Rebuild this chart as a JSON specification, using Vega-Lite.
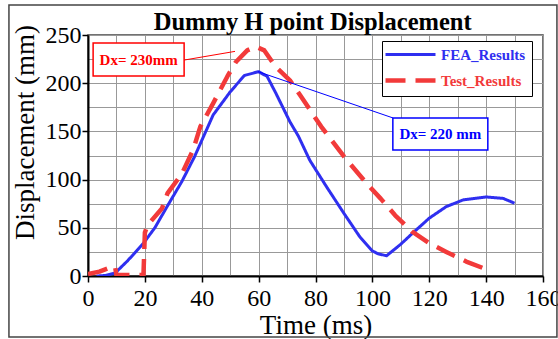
{
  "$schema": "https://vega.github.io/schema/vega-lite/v6.json",
  "width": 455,
  "height": 241,
  "autosize": {"type": "none"},
  "padding": {"left": 88, "top": 35, "right": 15, "bottom": 63},
  "background": "white",
  "config": {
    "view": {"stroke": "#444", "strokeWidth": 1.5},
    "axis": {"labelFont": "Liberation Serif", "titleFont": "Liberation Serif", "labelColor": "black", "titleColor": "black", "titleFontWeight": "normal", "labelFontSize": 24, "titleFontSize": 27, "domainColor": "black", "domainWidth": 2, "tickColor": "black", "tickWidth": 1.5, "tickSize": 6, "gridColor": "#999", "gridWidth": 1, "gridOpacity": 1}
  },
  "resolve": {"axis": {"x": "independent", "y": "independent"}},
  "datasets": {
    "curves": [
      {"t": 3, "d": 0, "s": "FEA_Results"},
      {"t": 6, "d": 0.5, "s": "FEA_Results"},
      {"t": 9.5, "d": 3, "s": "FEA_Results"},
      {"t": 14, "d": 16, "s": "FEA_Results"},
      {"t": 19.5, "d": 34, "s": "FEA_Results"},
      {"t": 23.5, "d": 50, "s": "FEA_Results"},
      {"t": 28, "d": 73, "s": "FEA_Results"},
      {"t": 33, "d": 98, "s": "FEA_Results"},
      {"t": 37.5, "d": 124, "s": "FEA_Results"},
      {"t": 44, "d": 167, "s": "FEA_Results"},
      {"t": 50, "d": 191, "s": "FEA_Results"},
      {"t": 55, "d": 208, "s": "FEA_Results"},
      {"t": 60, "d": 212, "s": "FEA_Results"},
      {"t": 63, "d": 207, "s": "FEA_Results"},
      {"t": 66, "d": 190, "s": "FEA_Results"},
      {"t": 71, "d": 160, "s": "FEA_Results"},
      {"t": 74, "d": 145, "s": "FEA_Results"},
      {"t": 78, "d": 120, "s": "FEA_Results"},
      {"t": 84, "d": 92, "s": "FEA_Results"},
      {"t": 90, "d": 65, "s": "FEA_Results"},
      {"t": 95.5, "d": 41, "s": "FEA_Results"},
      {"t": 100, "d": 26, "s": "FEA_Results"},
      {"t": 102, "d": 23, "s": "FEA_Results"},
      {"t": 105, "d": 21, "s": "FEA_Results"},
      {"t": 110, "d": 33, "s": "FEA_Results"},
      {"t": 114, "d": 44, "s": "FEA_Results"},
      {"t": 120, "d": 60, "s": "FEA_Results"},
      {"t": 126, "d": 72, "s": "FEA_Results"},
      {"t": 132, "d": 79, "s": "FEA_Results"},
      {"t": 140, "d": 82, "s": "FEA_Results"},
      {"t": 146, "d": 80.5, "s": "FEA_Results"},
      {"t": 150, "d": 75.5, "s": "FEA_Results"},
      {"t": 0, "d": 2, "s": "Test_Results"},
      {"t": 4, "d": 4.5, "s": "Test_Results"},
      {"t": 8, "d": 9, "s": "Test_Results"},
      {"t": 9.5, "d": 10, "s": "Test_Results"},
      {"t": 10, "d": 1, "s": "Test_Results"},
      {"t": 19.5, "d": 1, "s": "Test_Results"},
      {"t": 20, "d": 45, "s": "Test_Results"},
      {"t": 21, "d": 53, "s": "Test_Results"},
      {"t": 26, "d": 70, "s": "Test_Results"},
      {"t": 28, "d": 86, "s": "Test_Results"},
      {"t": 33, "d": 106, "s": "Test_Results"},
      {"t": 37, "d": 131, "s": "Test_Results"},
      {"t": 39.5, "d": 155, "s": "Test_Results"},
      {"t": 44, "d": 179, "s": "Test_Results"},
      {"t": 49, "d": 207, "s": "Test_Results"},
      {"t": 52, "d": 222, "s": "Test_Results"},
      {"t": 56, "d": 234, "s": "Test_Results"},
      {"t": 59, "d": 238, "s": "Test_Results"},
      {"t": 62, "d": 234, "s": "Test_Results"},
      {"t": 66, "d": 217, "s": "Test_Results"},
      {"t": 71, "d": 203, "s": "Test_Results"},
      {"t": 74.5, "d": 188, "s": "Test_Results"},
      {"t": 82, "d": 155, "s": "Test_Results"},
      {"t": 90, "d": 124, "s": "Test_Results"},
      {"t": 98, "d": 96, "s": "Test_Results"},
      {"t": 103, "d": 80, "s": "Test_Results"},
      {"t": 108, "d": 63, "s": "Test_Results"},
      {"t": 114, "d": 46, "s": "Test_Results"},
      {"t": 120, "d": 34, "s": "Test_Results"},
      {"t": 126, "d": 25, "s": "Test_Results"},
      {"t": 133, "d": 15, "s": "Test_Results"},
      {"t": 140, "d": 7, "s": "Test_Results"}
    ],
    "notes": [
      {"label": "Dx= 230mm", "c": "red", "bx": 1.8, "bx2": 33.8, "by": 241.7, "by2": 207.5, "tx": 17.8, "ty": 224.5, "lx": 33.8, "ly": 224, "lx2": 51.7, "ly2": 233},
      {"label": "Dx= 220 mm", "c": "blue", "bx": 107.2, "bx2": 140.6, "by": 163.9, "by2": 130.7, "tx": 123.9, "ty": 147.3, "lx": 59.8, "ly": 212, "lx2": 107.2, "ly2": 164}
    ]
  },
  "layer": [
    {
      "data": {"values": [{}]},
      "mark": {"type": "rect", "fill": "transparent", "stroke": "#444", "strokeWidth": 1.5, "clip": false},
      "encoding": {
        "x": {"datum": -27.8, "type": "quantitative", "axis": null},
        "x2": {"datum": 164.9},
        "y": {"datum": 281.1, "type": "quantitative", "axis": null},
        "y2": {"datum": -63.3}
      }
    },
    {
      "data": {"name": "curves"},
      "mark": {"type": "line", "strokeJoin": "round", "strokeCap": "butt", "clip": true},
      "encoding": {
        "x": {
          "field": "t", "type": "quantitative",
          "scale": {"domain": [0, 160], "nice": false, "zero": false},
          "axis": {"orient": "bottom", "title": null, "grid": true, "values": [0, 10, 20, 30, 40, 50, 60, 70, 80, 90, 100, 110, 120, 130, 140, 150, 160], "labels": false, "ticks": false, "domain": false}
        },
        "y": {
          "field": "d", "type": "quantitative",
          "scale": {"domain": [0, 250], "nice": false},
          "axis": {"orient": "left", "title": null, "grid": true, "values": [0, 25, 50, 75, 100, 125, 150, 175, 200, 225, 250], "labels": false, "ticks": false, "domain": false}
        },
        "color": {
          "field": "s", "type": "nominal",
          "scale": {"domain": ["FEA_Results", "Test_Results"], "range": ["#2f2ff0", "#f23a3a"]},
          "legend": {
            "title": null,
            "orient": "none",
            "legendX": 294,
            "legendY": 6,
            "fillColor": "white",
            "strokeColor": "black",
            "padding": 6,
            "symbolType": "M-5,0H5",
            "symbolSize": 100,
            "symbolOffset": 15,
            "symbolStrokeWidth": 4,
            "labelFont": "Liberation Serif",
            "labelFontSize": 15,
            "labelFontWeight": "bold",
            "labelOffset": 23,
            "rowPadding": 8,
            "encode": {"labels": {"update": {"fill": {"signal": "datum.value === 'FEA_Results' ? '#2f2ff0' : '#f23a3a'"}}}}
          }
        },
        "strokeDash": {
          "field": "s", "type": "nominal",
          "scale": {"domain": ["FEA_Results", "Test_Results"], "range": [[1, 0], [20, 10]]},
          "legend": null
        },
        "strokeWidth": {
          "field": "s", "type": "nominal",
          "scale": {"domain": ["FEA_Results", "Test_Results"], "range": [3, 4.5]},
          "legend": null
        },
        "order": {"field": "t", "type": "quantitative"}
      }
    },
    {
      "data": {"name": "notes"},
      "mark": {"type": "rule", "strokeWidth": 1},
      "encoding": {
        "x": {"field": "lx", "type": "quantitative", "axis": {"orient": "bottom", "title": "Time (ms)", "grid": false, "values": [0, 20, 40, 60, 80, 100, 120, 140, 160], "labelPadding": 4, "titlePadding": 2, "labelFlush": false, "labelOverlap": false}},
        "x2": {"field": "lx2"},
        "y": {"field": "ly", "type": "quantitative", "axis": {"orient": "left", "title": "Displacement (mm)", "titleY": 97, "grid": false, "values": [0, 50, 100, 150, 200, 250], "labelPadding": 1, "titlePadding": 6, "labelFlush": false, "labelOverlap": false}},
        "y2": {"field": "ly2"},
        "color": {"field": "c", "type": "nominal", "scale": null}
      }
    },
    {
      "data": {"name": "notes"},
      "mark": {"type": "rect", "fill": "white", "strokeWidth": 1.5},
      "encoding": {
        "x": {"field": "bx", "type": "quantitative", "axis": null},
        "x2": {"field": "bx2"},
        "y": {"field": "by", "type": "quantitative", "axis": null},
        "y2": {"field": "by2"},
        "stroke": {"field": "c", "type": "nominal", "scale": null}
      }
    },
    {
      "data": {"name": "notes"},
      "mark": {"type": "text", "font": "Liberation Serif", "fontSize": 15, "fontWeight": "bold", "align": "center", "baseline": "middle"},
      "encoding": {
        "x": {"field": "tx", "type": "quantitative", "axis": null},
        "y": {"field": "ty", "type": "quantitative", "axis": null},
        "text": {"field": "label"},
        "color": {"field": "c", "type": "nominal", "scale": null}
      }
    },
    {
      "data": {"values": [{"title": "Dummy H point Displacement"}]},
      "mark": {"type": "text", "font": "Liberation Serif", "fontSize": 24.5, "fontWeight": "bold", "align": "center", "baseline": "alphabetic", "color": "black", "clip": false},
      "encoding": {
        "x": {"datum": 79, "type": "quantitative", "axis": null},
        "y": {"datum": 255.5, "type": "quantitative", "axis": null},
        "text": {"field": "title"}
      }
    }
  ]
}
